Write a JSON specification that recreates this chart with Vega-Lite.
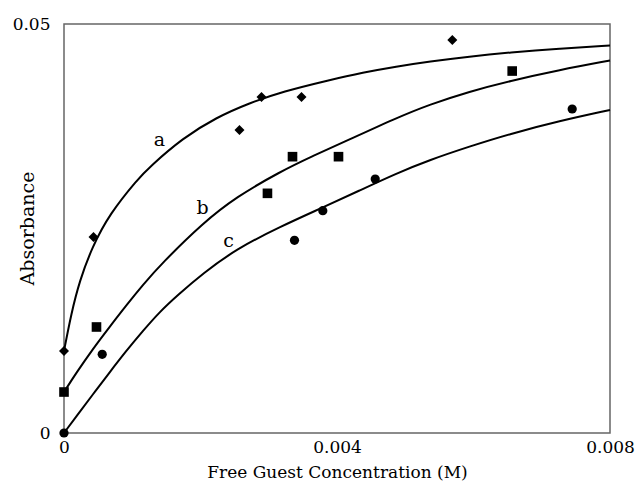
{
  "$schema": "https://vega.github.io/schema/vega-lite/v6.json",
  "width": 546,
  "height": 409,
  "autosize": {"type": "none"},
  "padding": {"left": 64, "top": 24, "right": 27, "bottom": 52},
  "background": "white",
  "config": {
    "view": {"stroke": "#666666", "strokeWidth": 1.5},
    "font": "DejaVu Serif",
    "axis": {"labelFont": "DejaVu Serif", "titleFont": "DejaVu Serif", "labelColor": "black", "titleColor": "black", "labelFontSize": 17, "titleFontSize": 17, "titleFontWeight": "normal", "grid": false, "domain": false, "ticks": false}
  },
  "datasets": {
    "curves": [
      {"series": "a", "x": 0, "y": 0.010025},
      {"series": "a", "x": 0.000105, "y": 0.014548},
      {"series": "a", "x": 0.000227, "y": 0.018582},
      {"series": "a", "x": 0.000413, "y": 0.022739},
      {"series": "a", "x": 0.000667, "y": 0.026773},
      {"series": "a", "x": 0.001081, "y": 0.031052},
      {"series": "a", "x": 0.001253, "y": 0.032519},
      {"series": "a", "x": 0.001741, "y": 0.036064},
      {"series": "a", "x": 0.00223, "y": 0.03857},
      {"series": "a", "x": 0.002718, "y": 0.040343},
      {"series": "a", "x": 0.003206, "y": 0.041748},
      {"series": "a", "x": 0.00389, "y": 0.043154},
      {"series": "a", "x": 0.004378, "y": 0.044071},
      {"series": "a", "x": 0.004867, "y": 0.044804},
      {"series": "a", "x": 0.005355, "y": 0.045416},
      {"series": "a", "x": 0.005941, "y": 0.046027},
      {"series": "a", "x": 0.006527, "y": 0.046516},
      {"series": "a", "x": 0.00726, "y": 0.047005},
      {"series": "a", "x": 0.008, "y": 0.047372},
      {"series": "b", "x": 0, "y": 0.005012},
      {"series": "b", "x": 0.000179, "y": 0.007335},
      {"series": "b", "x": 0.000422, "y": 0.010269},
      {"series": "b", "x": 0.000667, "y": 0.012959},
      {"series": "b", "x": 0.000911, "y": 0.015587},
      {"series": "b", "x": 0.001155, "y": 0.018093},
      {"series": "b", "x": 0.001424, "y": 0.02066},
      {"series": "b", "x": 0.002034, "y": 0.025673},
      {"series": "b", "x": 0.002523, "y": 0.028851},
      {"series": "b", "x": 0.003158, "y": 0.031907},
      {"series": "b", "x": 0.003645, "y": 0.033863},
      {"series": "b", "x": 0.004135, "y": 0.035697},
      {"series": "b", "x": 0.004867, "y": 0.038509},
      {"series": "b", "x": 0.005355, "y": 0.040159},
      {"series": "b", "x": 0.005941, "y": 0.041748},
      {"series": "b", "x": 0.006527, "y": 0.043032},
      {"series": "b", "x": 0.00726, "y": 0.044377},
      {"series": "b", "x": 0.008, "y": 0.045538},
      {"series": "c", "x": 0, "y": 0},
      {"series": "c", "x": 0.000179, "y": 0.002017},
      {"series": "c", "x": 0.000422, "y": 0.004707},
      {"series": "c", "x": 0.000667, "y": 0.007396},
      {"series": "c", "x": 0.000911, "y": 0.010025},
      {"series": "c", "x": 0.001155, "y": 0.01247},
      {"series": "c", "x": 0.001399, "y": 0.014792},
      {"series": "c", "x": 0.001667, "y": 0.01687},
      {"series": "c", "x": 0.002034, "y": 0.0195},
      {"series": "c", "x": 0.002523, "y": 0.022494},
      {"series": "c", "x": 0.003158, "y": 0.025184},
      {"series": "c", "x": 0.003792, "y": 0.027567},
      {"series": "c", "x": 0.00433, "y": 0.029646},
      {"series": "c", "x": 0.004867, "y": 0.031724},
      {"series": "c", "x": 0.005355, "y": 0.033374},
      {"series": "c", "x": 0.005941, "y": 0.035024},
      {"series": "c", "x": 0.006527, "y": 0.036553},
      {"series": "c", "x": 0.00726, "y": 0.038142},
      {"series": "c", "x": 0.008, "y": 0.039487}
    ],
    "points": [
      {"series": "a", "x": 0, "y": 0.01002},
      {"series": "a", "x": 0.000432, "y": 0.02396},
      {"series": "a", "x": 0.002571, "y": 0.03704},
      {"series": "a", "x": 0.002894, "y": 0.04108},
      {"series": "a", "x": 0.00348, "y": 0.04108},
      {"series": "a", "x": 0.00569, "y": 0.04804},
      {"series": "b", "x": 0, "y": 0.00501},
      {"series": "b", "x": 0.000476, "y": 0.01296},
      {"series": "b", "x": 0.002981, "y": 0.0293},
      {"series": "b", "x": 0.003348, "y": 0.03378},
      {"series": "b", "x": 0.004022, "y": 0.03378},
      {"series": "b", "x": 0.006567, "y": 0.04425},
      {"series": "c", "x": 0, "y": 0},
      {"series": "c", "x": 0.00056, "y": 0.00962},
      {"series": "c", "x": 0.003377, "y": 0.02356},
      {"series": "c", "x": 0.003792, "y": 0.02718},
      {"series": "c", "x": 0.00456, "y": 0.03105},
      {"series": "c", "x": 0.007446, "y": 0.03961}
    ],
    "labels": [
      {"text": "a", "x": 0.001399, "y": 0.03582},
      {"text": "b", "x": 0.002029, "y": 0.02751},
      {"text": "c", "x": 0.00241, "y": 0.02347}
    ]
  },
  "encoding": {
    "x": {"field": "x", "type": "quantitative", "scale": {"domain": [0, 0.008], "nice": false, "zero": false}, "axis": {"values": [0, 0.004, 0.008], "format": ".3~f", "title": "Free Guest Concentration (M)", "labelPadding": 6, "titlePadding": 9, "labelFlush": false}},
    "y": {"field": "y", "type": "quantitative", "scale": {"domain": [0, 0.05], "nice": false, "zero": false}, "axis": {"values": [0, 0.05], "format": ".2~f", "title": "Absorbance", "titleFontSize": 19, "labelPadding": 14, "titleX": -37, "titleY": 204, "titleAlign": "center", "titleBaseline": "middle", "titleAngle": -90, "labelFlush": false}}
  },
  "layer": [
    {
      "data": {"name": "curves"},
      "mark": {"type": "line", "interpolate": "basis", "color": "black", "strokeWidth": 2, "clip": false},
      "encoding": {"detail": {"field": "series", "type": "nominal"}}
    },
    {
      "data": {"name": "points"},
      "mark": {"type": "point", "filled": true, "color": "black", "opacity": 1, "clip": false},
      "encoding": {
        "shape": {"field": "series", "type": "nominal", "scale": {"domain": ["a", "b", "c"], "range": ["diamond", "square", "circle"]}, "legend": null},
        "size": {"field": "series", "type": "nominal", "scale": {"domain": ["a", "b", "c"], "range": [100, 85, 90]}, "legend": null}
      }
    },
    {
      "data": {"name": "labels"},
      "mark": {"type": "text", "font": "DejaVu Serif", "fontSize": 19, "color": "black", "align": "center", "baseline": "middle"},
      "encoding": {"text": {"field": "text", "type": "nominal"}}
    }
  ]
}
